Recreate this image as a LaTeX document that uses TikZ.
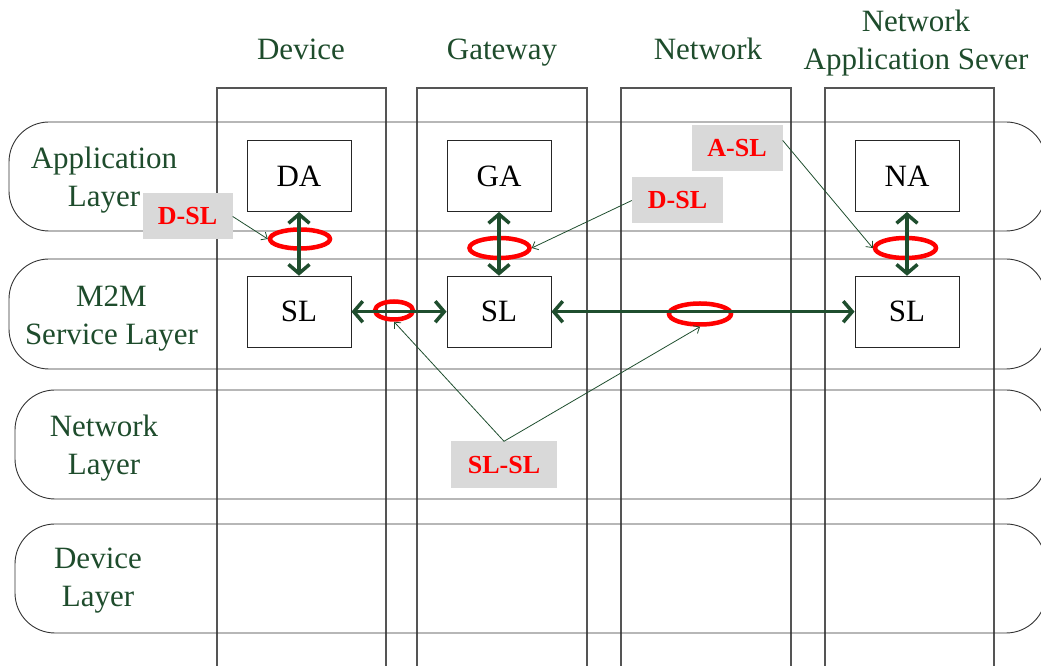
\documentclass[tikz,border=0pt]{standalone}
\usepackage{fontspec}
\setmainfont{Liberation Serif}
\usetikzlibrary{arrows.meta,shapes.geometric}
\definecolor{layergreen}{RGB}{30,76,44}
\definecolor{linkgreen}{RGB}{31,78,46}
\definecolor{tagfill}{RGB}{217,217,217}
\definecolor{gridgray}{RGB}{85,85,85}

\begin{document}
\begin{tikzpicture}[x=1pt,y=1pt,
  column/.style={draw=gridgray,line width=1.1pt},
  layer/.style={draw=black!80,line width=0.9pt,rounded corners=40pt},
  heading/.style={text=layergreen,font=\fontsize{31}{38}\selectfont,align=center,inner sep=0pt,anchor=base},
  entity/.style={draw=black!85,line width=0.9pt,minimum width=104pt,minimum height=71pt,inner sep=0pt,font=\fontsize{31}{38}\selectfont},
  ring/.style={ellipse,draw=red,line width=4.5pt,inner sep=0pt},
  tag/.style={fill=tagfill,text=red,font=\fontsize{26}{30}\selectfont\bfseries,inner sep=0pt},
  link/.style={draw=linkgreen,line width=3.5pt,{Straight Barb[length=9pt,width=21pt]}-{Straight Barb[length=9pt,width=21pt]}},
  leader/.style={draw=linkgreen,line width=0.8pt,-{Straight Barb[length=5pt,width=9pt]}}
]
\useasboundingbox (0,0) rectangle (1041,666);
\clip (0,0) rectangle (1041,666);

% vertical columns, open at the bottom
\draw[column] (217,-5) -- (217,578) -- (386,578) -- (386,-5);
\draw[column] (417,-5) -- (417,578) -- (587,578) -- (587,-5);
\draw[column] (621,-5) -- (621,578) -- (791,578) -- (791,-5);
\draw[column] (825,-5) -- (825,578) -- (994,578) -- (994,-5);

% horizontal layers
\draw[layer] (9,435) rectangle (1046,544);
\draw[layer] (9,297) rectangle (1046,407);
\draw[layer] (15,167) rectangle (1046,276);
\draw[layer] (15,33) rectangle (1046,142);

% column headings (anchored on the baseline of the last line)
\node[heading] (hdev) at (301,606.5) {Device};
\node[heading] (hgw)  at (502,606.5) {Gateway};
\node[heading] (hnet) at (708,606.5) {Network};
\node[heading] (hnas) at (916,596) {Network\\Application Sever};

% layer headings
\node[heading] (lapp) at (104,459.3) {Application\\Layer};
\node[heading] (lm2m) at (111.5,321.7) {M2M\\Service Layer};
\node[heading] (lnet) at (104,191.7) {Network\\Layer};
\node[heading] (ldev) at (98,59.3) {Device\\Layer};

% entities
\node[entity] (da)  at (299,490) {DA};
\node[entity] (ga)  at (499,490) {GA};
\node[entity] (na)  at (907,490) {NA};
\node[entity] (sl1) at (299,354.3) {SL};
\node[entity] (sl2) at (499,354.3) {SL};
\node[entity] (sl3) at (907,354.3) {SL};

% reference points
\node[ring,minimum width=60pt,minimum height=19pt] (e1) at (300,427) {};
\node[ring,minimum width=60pt,minimum height=20pt] (e2) at (499.5,418) {};
\node[ring,minimum width=38pt,minimum height=18pt] (e3) at (394,355.5) {};
\node[ring,minimum width=62pt,minimum height=21pt] (e4) at (700,352) {};
\node[ring,minimum width=61pt,minimum height=20pt] (e5) at (905.5,418) {};

% interfaces
\draw[link] (da) -- (sl1);
\draw[link] (ga) -- (sl2);
\draw[link] (na) -- (sl3);
\draw[link] (sl1) -- (sl2);
\draw[link] (sl2) -- (sl3);

% interface tags
\node[tag,minimum width=90pt,minimum height=46pt] (dsl1) at (187.5,449.5) {D-SL};
\node[tag,minimum width=91pt,minimum height=46pt] (dsl2) at (677.5,465.5) {D-SL};
\node[tag,minimum width=91pt,minimum height=46pt] (asl)  at (737,517.5) {A-SL};
\node[tag,minimum width=106pt,minimum height=47pt] (slsl) at (504,201) {SL-SL};

\draw[leader] (dsl1.east) -- (e1.west);
\draw[leader] (dsl2.west) -- (e2.east);
\draw[leader] (asl.10) -- (e5.west);
\draw[leader] (slsl.north) -- (e3.south);
\draw[leader] (slsl.north) -- (e4.south);
\end{tikzpicture}
\end{document}
